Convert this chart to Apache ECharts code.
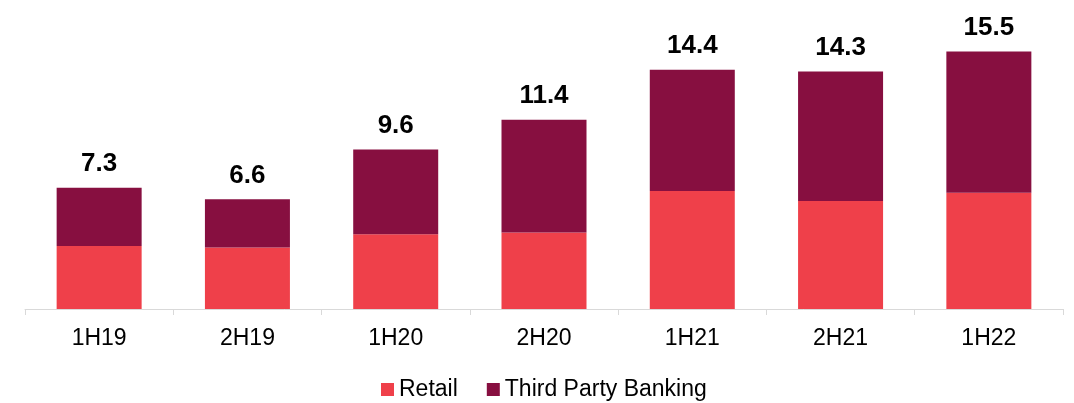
<!DOCTYPE html>
<html>
<head>
<meta charset="utf-8">
<script src="https://cdn.jsdelivr.net/npm/echarts@6/dist/echarts.min.js"></script>
<style>
  html, body { margin: 0; padding: 0; background: #fff; }
  #chart { width: 1074px; height: 403px; }
</style>
</head>
<body>
<div id="chart"></div>
<script>
// Half-year periods
const categories = ['1H19', '2H19', '1H20', '2H20', '1H21', '2H21', '1H22'];
// Retail segment
const retail = [3.8, 3.7, 4.5, 4.6, 7.1, 6.5, 7.0];
// Third Party Banking segment
const thirdParty = [3.5, 2.9, 5.1, 6.8, 7.3, 7.8, 8.5];

const FONT = '"Liberation Sans", Arial, sans-serif';

const chart = echarts.init(document.getElementById('chart'), null, { renderer: 'canvas' });

chart.setOption({
  animation: false,
  backgroundColor: '#ffffff',
  grid: { left: 25, right: 11, top: 10, bottom: 94, containLabel: false },
  legend: {
    left: 381,
    top: 378,
    padding: 0,
    itemWidth: 13,
    itemHeight: 13,
    itemGap: 29,
    icon: 'rect',
    textStyle: { fontFamily: FONT, fontSize: 23, color: '#000' },
    data: ['Retail', 'Third Party Banking']
  },
  xAxis: {
    type: 'category',
    data: categories,
    axisLine: { lineStyle: { color: '#d9d9d9', width: 1 } },
    axisTick: { show: true, length: 6, lineStyle: { color: '#d9d9d9' } },
    axisLabel: { fontFamily: FONT, fontSize: 23, color: '#000', margin: 18 }
  },
  yAxis: {
    type: 'value',
    min: 0,
    max: 18,
    show: false,
    splitLine: { show: false }
  },
  series: [
    {
      name: 'Retail',
      type: 'bar',
      stack: 'total',
      barWidth: 85,
      itemStyle: { color: '#ef404a' },
      data: retail
    },
    {
      name: 'Third Party Banking',
      type: 'bar',
      stack: 'total',
      barWidth: 85,
      itemStyle: { color: '#870f40' },
      label: {
        show: true,
        position: 'top',
        distance: 11,
        fontFamily: FONT,
        fontSize: 26,
        fontWeight: 'bold',
        color: '#000',
        formatter: (p) => (retail[p.dataIndex] + thirdParty[p.dataIndex]).toFixed(1)
      },
      data: thirdParty
    }
  ]
});
</script>
</body>
</html>
